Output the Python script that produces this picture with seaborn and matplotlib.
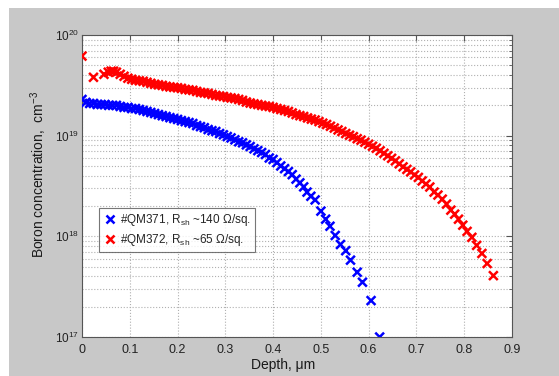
import numpy as np
import pandas as pd
import seaborn as sns
import matplotlib.pyplot as plt
from matplotlib.patches import Rectangle
from matplotlib.ticker import LogLocator, MultipleLocator, NullFormatter

# depth (um) and boron concentration (cm^-3)
depth_qm371 = [0.000, 0.008, 0.016, 0.024, 0.032, 0.040, 0.048, 0.056, 0.064, 0.072,
               0.080, 0.088, 0.096, 0.104, 0.112, 0.120, 0.128, 0.136, 0.144, 0.152,
               0.160, 0.168, 0.176, 0.184, 0.192, 0.200, 0.208, 0.216, 0.224, 0.232,
               0.240, 0.248, 0.256, 0.264, 0.272, 0.280, 0.288, 0.296, 0.304, 0.312,
               0.320, 0.328, 0.336, 0.344, 0.352, 0.360, 0.368, 0.376, 0.384, 0.392,
               0.400, 0.408, 0.416, 0.424, 0.432, 0.440, 0.448, 0.456, 0.464, 0.471,
               0.479, 0.488, 0.500, 0.510, 0.519, 0.530, 0.541, 0.552, 0.562, 0.576,
               0.587, 0.605, 0.623]
conc_qm371 = [2.29e19, 2.14e19, 2.09e19, 2.09e19, 2.04e19, 2.04e19, 2.04e19, 2.00e19, 2.00e19, 2.00e19,
              1.95e19, 1.91e19, 1.91e19, 1.86e19, 1.86e19, 1.82e19, 1.78e19, 1.74e19, 1.70e19, 1.66e19,
              1.62e19, 1.58e19, 1.55e19, 1.51e19, 1.48e19, 1.45e19, 1.41e19, 1.38e19, 1.35e19, 1.32e19,
              1.26e19, 1.23e19, 1.20e19, 1.15e19, 1.12e19, 1.10e19, 1.05e19, 1.02e19, 9.8e18, 9.5e18,
              9.1e18, 8.7e18, 8.5e18, 8.1e18, 7.8e18, 7.4e18, 7.1e18, 6.8e18, 6.5e18, 6.0e18,
              5.8e18, 5.4e18, 5.0e18, 4.7e18, 4.4e18, 4.1e18, 3.7e18, 3.4e18, 3.1e18, 2.75e18,
              2.5e18, 2.3e18, 1.78e18, 1.48e18, 1.26e18, 1.02e18, 8.3e17, 7.2e17, 5.8e17, 4.4e17,
              3.5e17, 2.3e17, 1.0e17]

depth_qm372 = [0.000, 0.024, 0.046, 0.055, 0.061, 0.066, 0.072, 0.080, 0.088, 0.096,
               0.104, 0.112, 0.120, 0.128, 0.136, 0.144, 0.152, 0.160, 0.168, 0.176,
               0.184, 0.192, 0.200, 0.208, 0.216, 0.224, 0.232, 0.240, 0.248, 0.256,
               0.264, 0.272, 0.280, 0.288, 0.296, 0.304, 0.312, 0.320, 0.328, 0.336,
               0.344, 0.352, 0.360, 0.368, 0.376, 0.384, 0.392, 0.400, 0.408, 0.416,
               0.424, 0.432, 0.440, 0.448, 0.456, 0.464, 0.472, 0.480, 0.488, 0.496,
               0.504, 0.512, 0.520, 0.528, 0.536, 0.544, 0.552, 0.560, 0.568, 0.576,
               0.584, 0.592, 0.600, 0.608, 0.616, 0.624, 0.632, 0.640, 0.648, 0.656,
               0.664, 0.672, 0.680, 0.688, 0.696, 0.704, 0.712, 0.720, 0.728, 0.737,
               0.745, 0.754, 0.763, 0.772, 0.780, 0.788, 0.797, 0.806, 0.816, 0.826,
               0.837, 0.848, 0.861]
conc_qm372 = [6.17e19, 3.80e19, 4.07e19, 4.27e19, 4.37e19, 4.37e19, 4.27e19, 4.07e19, 3.89e19, 3.72e19,
              3.63e19, 3.55e19, 3.51e19, 3.47e19, 3.39e19, 3.31e19, 3.24e19, 3.20e19, 3.16e19, 3.09e19,
              3.05e19, 3.02e19, 2.99e19, 2.95e19, 2.88e19, 2.85e19, 2.82e19, 2.75e19, 2.69e19, 2.66e19,
              2.63e19, 2.57e19, 2.51e19, 2.48e19, 2.45e19, 2.40e19, 2.37e19, 2.34e19, 2.29e19, 2.24e19,
              2.16e19, 2.11e19, 2.07e19, 2.04e19, 2.00e19, 1.97e19, 1.95e19, 1.91e19, 1.86e19, 1.82e19,
              1.78e19, 1.74e19, 1.68e19, 1.62e19, 1.58e19, 1.55e19, 1.50e19, 1.46e19, 1.43e19, 1.38e19,
              1.33e19, 1.29e19, 1.24e19, 1.19e19, 1.14e19, 1.10e19, 1.05e19, 1.01e19, 9.77e18, 9.33e18,
              9.02e18, 8.61e18, 8.22e18, 7.85e18, 7.50e18, 7.08e18, 6.68e18, 6.31e18, 5.96e18, 5.62e18,
              5.25e18, 4.90e18, 4.62e18, 4.37e18, 4.07e18, 3.85e18, 3.55e18, 3.31e18, 3.09e18, 2.75e18,
              2.57e18, 2.34e18, 2.09e18, 1.82e18, 1.66e18, 1.48e18, 1.29e18, 1.12e18, 9.77e17, 8.13e17,
              6.76e17, 5.37e17, 4.07e17]

labels = ['#QM371, R$_{sh}$ ~140 \u03a9/sq.', '#QM372, R$_{sh}$ ~65 \u03a9/sq.']
colors = ['#0000ff', '#ff0000']

df = pd.concat([
    pd.DataFrame({'depth': depth_qm371, 'conc': conc_qm371, 'sample': labels[0]}),
    pd.DataFrame({'depth': depth_qm372, 'conc': conc_qm372, 'sample': labels[1]}),
])

sns.set_style('white')
plt.rcParams['font.family'] = ['Liberation Sans', 'DejaVu Sans']
plt.rcParams['mathtext.fontset'] = 'custom'
plt.rcParams['mathtext.rm'] = 'Liberation Sans'
plt.rcParams['mathtext.it'] = 'Liberation Sans'
plt.rcParams['mathtext.bf'] = 'Liberation Sans:bold'

fig = plt.figure(figsize=(5.59, 3.76), dpi=100)
fig.patch.set_facecolor('white')
fig.patches.append(Rectangle((9 / 559, 0), 1, (376 - 8) / 376, transform=fig.transFigure,
                             facecolor='#c8c8c8', edgecolor='none', zorder=-10))

ax = fig.add_axes([82 / 559, 39 / 376, 430 / 559, 302 / 376])
ax.set_facecolor('white')

sns.scatterplot(data=df, x='depth', y='conc', hue='sample', palette=colors,
                marker='x', s=40, linewidth=1.8, ax=ax, zorder=3)

ax.set_yscale('log')
ax.set_xlim(0, 0.9)
ax.set_ylim(1e17, 1e20)
ax.xaxis.set_major_locator(MultipleLocator(0.1))
ax.xaxis.set_major_formatter(plt.FuncFormatter(lambda v, p: '0' if abs(v) < 1e-9 else f'{v:.1f}'))
ax.yaxis.set_major_locator(LogLocator(base=10))
ax.yaxis.set_minor_locator(LogLocator(base=10, subs=np.arange(2, 10)))
ax.yaxis.set_minor_formatter(NullFormatter())

ax.grid(True, which='major', axis='both', color='#b0b0b0', linestyle=':', linewidth=0.8)
ax.grid(True, which='minor', axis='y', color='#b0b0b0', linestyle=':', linewidth=0.8)
ax.set_axisbelow(True)

for s in ax.spines.values():
    s.set_color('#555555')
    s.set_linewidth(0.8)
ax.tick_params(which='both', direction='in', top=True, right=True, color='#555555',
               labelsize=9, labelcolor='#222222')
ax.tick_params(which='major', length=4)
ax.tick_params(which='minor', length=2)
ax.tick_params(axis='x', pad=5)
ax.tick_params(axis='y', labelsize=8.5, pad=2)

ax.set_xlabel('Depth, \u03bcm', fontsize=10, color='#1a1a1a')
ax.set_ylabel('Boron concentration,  cm$^{-3}$', fontsize=10, color='#1a1a1a')
ax.xaxis.set_label_coords(201 / 430, -21 / 302)
ax.yaxis.set_label_coords(-33 / 430, 162 / 302)

leg = ax.legend(loc='upper left', bbox_to_anchor=(17 / 430, (337 - 208) / 302),
                frameon=True, fancybox=False, fontsize=8.5, handletextpad=0.2,
                borderpad=0.35, labelspacing=0.35, handlelength=1.2,
                borderaxespad=0)
leg.get_frame().set_edgecolor('#555555')
leg.get_frame().set_linewidth(0.8)
leg.set_title(None)

fig.savefig('out.png', dpi=100, facecolor=fig.get_facecolor())
